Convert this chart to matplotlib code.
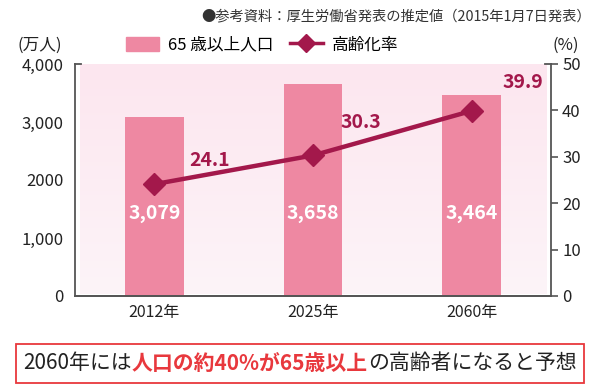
import matplotlib
matplotlib.use("Agg")
import matplotlib.pyplot as plt
import numpy as np
from matplotlib.patches import Rectangle
from matplotlib.lines import Line2D
from matplotlib.patches import Patch
from matplotlib.colors import LinearSegmentedColormap

plt.rcParams['font.family'] = ['Noto Sans CJK JP', 'DejaVu Sans']

years = ["2012年", "2025年", "2060年"]
pop65 = [3079, 3658, 3464]
pop_labels = ["3,079", "3,658", "3,464"]
rate = [24.1, 30.3, 39.9]
left_ticks = [0, 1000, 2000, 3000, 4000]
left_ticklabels = ["0", "1,000", "2000", "3,000", "4,000"]
right_ticks = [0, 10, 20, 30, 40, 50]

BAR = "#ee88a2"
LINE = "#a3184b"
GRAY = "#555555"

fig = plt.figure(figsize=(6, 3.9), dpi=100)
ax = fig.add_axes([75/600, 1-296/390, (551-75)/600, (296-64)/390])
ax2 = ax.twinx()

# gradient background
grad = np.linspace(0, 1, 256).reshape(-1, 1)
cmap = LinearSegmentedColormap.from_list("bg", ["#fdf4f8", "#fce6ef"])
ax.imshow(grad, cmap=cmap, aspect='auto', origin='lower',
          extent=[0.011, 0.99, 0.008, 1.0], transform=ax.transAxes, zorder=0)

x = np.arange(len(years))
ax.bar(x, pop65, width=0.37, color=BAR, zorder=2)
ax.set_xlim(-0.5, 2.5)
ax.set_ylim(0, 4000)
ax2.set_ylim(0, 50)

ax.set_yticks(left_ticks)
ax.set_yticklabels(left_ticklabels, fontsize=12, color="#222222")
ax.set_xticks(x)
ax.set_xticklabels(years, fontsize=11.5, color="#222222")
ax.tick_params(axis='y', length=0, pad=8)
ax.tick_params(axis='x', length=0, pad=6)
ax2.set_yticks(right_ticks)
ax2.tick_params(axis='y', length=5, width=1.2, color=GRAY, labelsize=12, labelcolor="#222222", pad=3)

for a in (ax, ax2):
    a.spines['top'].set_visible(False)
    for s in ('left', 'right', 'bottom'):
        a.spines[s].set_color(GRAY)
        a.spines[s].set_linewidth(1.3)
ax2.spines['left'].set_visible(False)
ax.spines['right'].set_visible(False)

# bracket ticks at top
ax.plot([0, 0.012], [1, 1], transform=ax.transAxes, color=GRAY, lw=1.3, clip_on=False, zorder=5)
ax.plot([0.988, 1.0], [1, 1], transform=ax.transAxes, color=GRAY, lw=1.3, clip_on=False, zorder=5)

ax2.plot(x, rate, color=LINE, lw=3.2, marker='D', markersize=11, zorder=4)
ax2.set_zorder(ax.get_zorder() + 1)
ax2.patch.set_visible(False)

for xi, v, lab in zip(x, pop65, pop_labels):
    ax.text(xi, 1430, lab, ha='center', va='center', color='white', fontsize=14, fontweight='bold', zorder=5)

offsets = [(0.35, 5.2), (0.30, 7.1), (0.32, 6.2)]
for xi, v, (dx, dy) in zip(x, rate, offsets):
    ax2.text(xi + dx, v + dy, f"{v}", ha='center', va='center', color=LINE, fontsize=14, fontweight='bold', zorder=5)

# axis unit labels
fig.text(40/600, 1-45/390, "(万人)", ha='center', va='center', fontsize=12, color="#222222")
fig.text(566/600, 1-45/390, "(%)", ha='center', va='center', fontsize=12, color="#222222")

# legend
handles = [Patch(color=BAR, label="65 歳以上人口"),
           Line2D([0], [0], color=LINE, lw=2.5, marker='D', markersize=9, label="高齢化率")]
fig.legend(handles=handles, loc='center', bbox_to_anchor=(262/600, 1-45/390), ncol=2, frameon=False,
           fontsize=12, handlelength=2.0, handleheight=0.9, columnspacing=1.0, handletextpad=0.5)

# source
fig.text(591/600, 1-16/390, "●参考資料：厚生労働省発表の推定値（2015年1月7日発表）", ha='right', va='center',
         fontsize=10.3, color="#333333")

# bottom box
fig.add_artist(Rectangle((16/600, 1-383/390), (584-16)/600, (383-344)/390, transform=fig.transFigure,
                         fill=False, edgecolor="#e8383d", lw=1.3))
parts = [("2060年には", "#222222"), ("人口の約40%が65歳以上", "#e8383d"), ("の高齢者になると予想", "#222222")]
renderer = fig.canvas.get_renderer()
texts = []
for s, c in parts:
    t = fig.text(0, 1-363/390, s, ha='left', va='center', fontsize=15, color=c,
                 fontweight='bold' if c != "#222222" else 'normal')
    texts.append(t)
widths = [t.get_window_extent(renderer).width for t in texts]
total = sum(widths)
start = 300 - total/2
for t, w in zip(texts, widths):
    t.set_x(start/600)
    start += w

fig.savefig("out.png", dpi=100, facecolor='white')
